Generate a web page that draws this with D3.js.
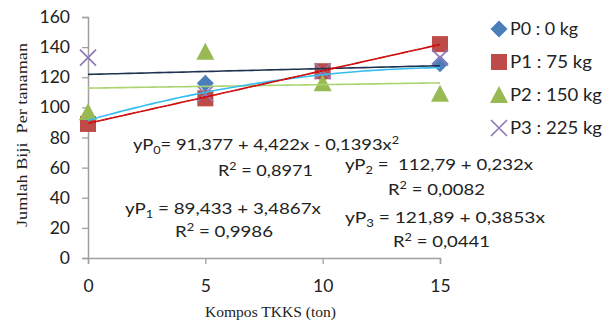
<!DOCTYPE html>
<html>
<head>
<meta charset="utf-8">
<script src="https://cdn.jsdelivr.net/npm/d3@7"></script>
<style>
  body { margin: 0; background: #fff; }
  svg { display: block; }
</style>
</head>
<body>
<div id="chart"></div>
<script>
// data
var doses = [0, 5, 10, 15];
var seriesNames = ["P0 : 0 kg", "P1 : 75 kg", "P2 : 150 kg", "P3 : 225 kg"];
var p0Values = [91, 116, 122, 129];
var p1Values = [89, 106, 124, 142];
var p2Values = [97, 137, 116, 109];
var p3Values = [133, 109, 124, 133];
var yTicks = [0, 20, 40, 60, 80, 100, 120, 140, 160];

// fitted trend coefficients printed on the chart
var fitP0 = [91.377, 4.422, -0.1393];
var fitP1 = [89.433, 3.4867];
var fitP2 = [112.79, 0.232];
var fitP3 = [121.89, 0.3853];

var width = 613, height = 324;
var sans = "Lato, 'Open Sans', sans-serif";
var serif = "'Liberation Serif', 'DejaVu Serif', serif";

var xScale = d3.scaleLinear().domain([0, 15]).range([88, 440]);
var yScale = d3.scaleLinear().domain([0, 160]).range([258, 17]);

var svg = d3.select("#chart").append("svg")
    .attr("width", width)
    .attr("height", height);

// axes
var yAxis = svg.append("g")
    .attr("transform", "translate(" + xScale(0) + ",0)")
    .call(d3.axisLeft(yScale).tickValues(yTicks).tickSize(6).tickPadding(12));
var xAxis = svg.append("g")
    .attr("transform", "translate(0," + yScale(0) + ")")
    .call(d3.axisBottom(xScale).tickValues(doses).tickSize(6).tickPadding(16));

[yAxis, xAxis].forEach(function(a) {
    a.select(".domain").attr("stroke", "#a0a0a0").attr("stroke-width", 1.5);
    a.selectAll(".tick line").attr("stroke", "#a0a0a0").attr("stroke-width", 1.3);
    a.selectAll(".tick text")
        .attr("fill", "#222")
        .style("font-family", sans)
        .style("font-size", "17.5px");
});

svg.append("text")
    .attr("x", 205).attr("y", 317)
    .attr("textLength", 131)
    .attr("lengthAdjust", "spacingAndGlyphs")
    .style("font-family", serif)
    .style("font-size", "14px")
    .attr("fill", "#222")
    .text("Kompos TKKS (ton)");

svg.append("text")
    .attr("transform", "translate(27,227) rotate(-90)")
    .attr("textLength", 184)
    .attr("lengthAdjust", "spacingAndGlyphs")
    .style("font-family", serif)
    .style("font-size", "15px")
    .attr("fill", "#222")
    .attr("xml:space", "preserve")
    .text("Jumlah Biji  Per tanaman");

// trend lines
function poly(c) {
    return function(x) {
        var y = 0;
        c.forEach(function(k, i) { y += k * Math.pow(x, i); });
        return y;
    };
}
var xs = d3.range(0, 15.01, 0.25);
var line = d3.line().x(function(d) { return xScale(d[0]); }).y(function(d) { return yScale(d[1]); });
function trend(c, color, w, dash) {
    var f = poly(c);
    svg.append("path")
        .datum(xs.map(function(x) { return [x, f(x)]; }))
        .attr("d", line)
        .attr("fill", "none")
        .attr("stroke", color)
        .attr("stroke-width", w)
        .attr("stroke-dasharray", dash || null);
}

// markers
var allSeries = [p0Values, p1Values, p2Values, p3Values];
var colors = ["#4a7ebb", "#be4b48", "#98b954", "#8f7ab8"];

function drawMarker(g, i, cx, cy) {
    if (i === 0) {
        g.append("path")
            .attr("d", "M0,-8.5L8.5,0L0,8.5L-8.5,0Z")
            .attr("transform", "translate(" + cx + "," + cy + ")")
            .attr("fill", colors[0]);
    } else if (i === 1) {
        g.append("rect")
            .attr("x", cx - 8).attr("y", cy - 8)
            .attr("width", 16).attr("height", 16)
            .attr("fill", colors[1]);
    } else if (i === 2) {
        g.append("path")
            .attr("d", "M0,-9L9,8L-9,8Z")
            .attr("transform", "translate(" + cx + "," + cy + ")")
            .attr("fill", colors[2]);
    } else {
        g.append("path")
            .attr("d", "M-8,-8L8,8M-8,8L8,-8")
            .attr("transform", "translate(" + cx + "," + cy + ")")
            .attr("stroke", colors[3])
            .attr("stroke-width", 1.7)
            .attr("fill", "none");
    }
}

var marks = svg.append("g");
allSeries.forEach(function(vals, i) {
    vals.forEach(function(v, j) {
        drawMarker(marks, i, xScale(doses[j]), yScale(v));
    });
});

trend(fitP2, "#a9d46f", 1.6);
trend(fitP0, "#33bdf0", 1.6);
trend(fitP3, "#1f3250", 1.6);
trend(fitP1, "#c00000", 1.6);
trend(fitP1, "#ff3030", 0.8, "2,2");

// legend
var legendWidths = [68, 82, 92, 92];
var legend = svg.append("g");
seriesNames.forEach(function(name, i) {
    var ly = 29 + i * 33;
    drawMarker(legend, i, 499, ly);
    legend.append("text")
        .attr("x", 510).attr("y", ly + 6)
        .attr("textLength", legendWidths[i])
        .attr("lengthAdjust", "spacingAndGlyphs")
        .style("font-family", sans)
        .style("font-size", "16.5px")
        .attr("fill", "#222")
        .text(name);
});

// equation labels
function label(x, y, w, parts) {
    var t = svg.append("text")
        .attr("x", x).attr("y", y)
        .attr("textLength", w)
        .attr("lengthAdjust", "spacingAndGlyphs")
        .attr("xml:space", "preserve")
        .style("font-family", sans)
        .style("font-size", "16px")
        .attr("fill", "#222");
    parts.forEach(function(p) {
        var s = t.append("tspan").text(p[0]);
        if (p[1] === "sub") s.attr("dy", 4).style("font-size", "11px");
        if (p[1] === "sup") s.attr("dy", -6).style("font-size", "11px");
        if (p[2]) s.attr("dy", p[2]);
    });
}
label(133, 150, 266, [["yP"], ["0", "sub"], ["= 91,377 + 4,422x - 0,1393x", null, -4], ["2", "sup"]]);
label(218, 176, 95, [["R"], ["2", "sup"], [" = 0,8971", null, 6]]);
label(125, 214, 196, [["yP"], ["1", "sub"], [" = 89,433 + 3,4867x", null, -4]]);
label(175, 237, 98, [["R"], ["2", "sup"], [" = 0,9986", null, 6]]);
label(345, 170, 188, [["yP"], ["2", "sub"], [" =  112,79 + 0,232x", null, -4]]);
label(388, 195, 97, [["R"], ["2", "sup"], [" = 0,0082", null, 6]]);
label(345, 223, 200, [["yP"], ["3", "sub"], [" = 121,89 + 0,3853x", null, -4]]);
label(393, 247, 97, [["R"], ["2", "sup"], [" = 0,0441", null, 6]]);
</script>
</body>
</html>
